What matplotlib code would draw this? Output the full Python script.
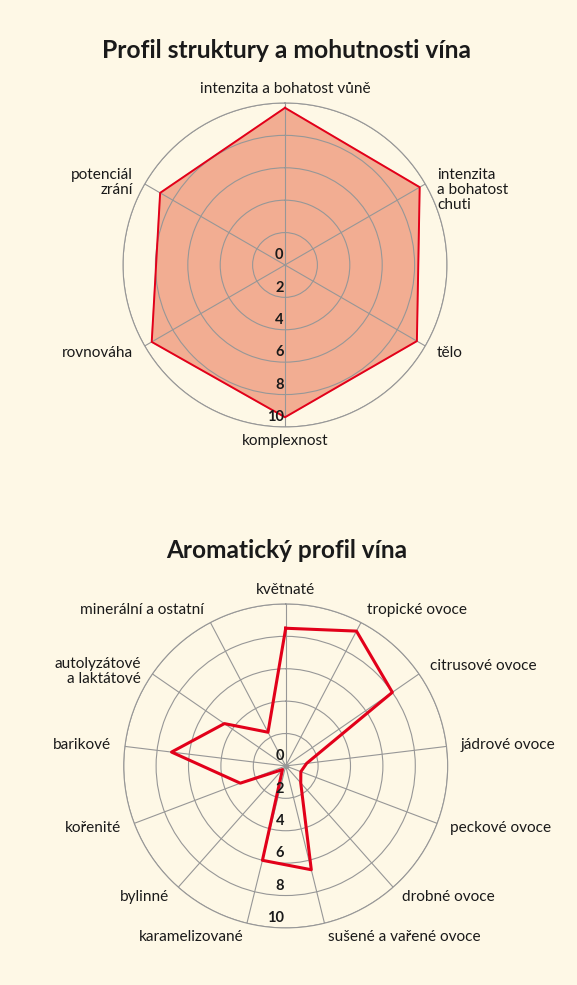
import numpy as np
import matplotlib
matplotlib.use("Agg")
import matplotlib.pyplot as plt

BG = "#fef8e6"
GRID = "#979797"
RED = "#e2001a"
FILL = "#f2ad92"
plt.rcParams['font.family'] = ['Lato', 'DejaVu Sans']

# top chart: structure profile
STRUCT_TITLE = "Profil struktury a mohutnosti vína"
STRUCT_LABELS = ["intenzita a bohatost vůně", "intenzita\na bohatost\nchuti", "tělo",
                 "komplexnost", "rovnováha", "potenciál\nzrání"]
STRUCT_VALUES = [9.7, 9.6, 9.4, 9.4, 9.5, 8.9]

# bottom chart: aroma profile
AROMA_TITLE = "Aromatický profil vína"
AROMA_LABELS = ["květnaté", "tropické ovoce", "citrusové ovoce", "jádrové ovoce",
                "peckové ovoce", "drobné ovoce", "sušené a vařené ovoce", "karamelizované",
                "bylinné", "kořenité", "barikové", "autolyzátové\na laktátové",
                "minerální a ostatní"]
AROMA_VALUES = [8.5, 9.4, 8.0, 1.3, 1.0, 1.4, 6.6, 6.0, 0.3, 3.0, 7.1, 4.6, 2.35]

TICKS = [0, 2, 4, 6, 8, 10]
LABEL_FS = 11.1


def radar(ax, labels, values, filled, lw):
    n = len(labels)
    ang = np.arange(n) * 2 * np.pi / n
    ax.set_facecolor(BG)
    ax.set_theta_zero_location("N")
    ax.set_theta_direction(-1)
    ax.set_ylim(0, 10)
    ax.set_yticks(TICKS[1:])
    ax.set_yticklabels([])
    ax.set_xticks(ang)
    ax.set_xticklabels([])
    ax.grid(True, color=GRID, linewidth=0.8)
    ax.spines['polar'].set_color(GRID)
    ax.spines['polar'].set_linewidth(0.8)

    a = np.append(ang, ang[0])
    v = np.append(values, values[0])
    if filled:
        ax.fill(a, v, color=FILL, zorder=1)
    else:
        ax.plot([0], [0], 'o', color=GRID, markersize=3, zorder=2)
    ax.plot(a, v, color=RED, linewidth=lw, zorder=3)

    for t in TICKS:
        ax.annotate(str(t), xy=(np.pi, t), xytext=(-1, 2), textcoords='offset points',
                    ha='right', va='bottom', fontsize=10.5, fontweight='bold',
                    color='#1a1a1a', zorder=4)

    for th, lab in zip(ang, labels):
        s = np.sin(th)
        if s > 0.1:
            ha = 'left'
        elif s < -0.1:
            ha = 'right'
        else:
            ha = 'center'
        if "\n" in lab:
            # first line sits on the axis direction
            ax.annotate(lab, xy=(th, 10.85), xytext=(0, 0.62 * LABEL_FS),
                        textcoords='offset points', ha=ha, va='top',
                        multialignment=ha, fontsize=LABEL_FS, color='#1a1a1a',
                        linespacing=1.12, annotation_clip=False)
        else:
            ax.text(th, 10.85, lab, ha=ha, va='center', fontsize=LABEL_FS,
                    color='#1a1a1a')


fig = plt.figure(figsize=(5.77, 9.85), dpi=100)
fig.patch.set_facecolor(BG)

ax1 = fig.add_axes([0.2132, 0.5665, 0.5615, 0.329], projection='polar')
radar(ax1, STRUCT_LABELS, STRUCT_VALUES, True, 1.4)
ax2 = fig.add_axes([0.2144, 0.0579, 0.5615, 0.329], projection='polar')
radar(ax2, AROMA_LABELS, AROMA_VALUES, False, 2.2)

fig.text(0.497, 1 - 50 / 985, STRUCT_TITLE, ha='center', va='center', fontsize=17.7,
         fontweight='bold', color='#1a1a1a')
fig.text(0.497, 1 - 550 / 985, AROMA_TITLE, ha='center', va='center', fontsize=17.6,
         fontweight='bold', color='#1a1a1a')

fig.savefig("out.png", dpi=100, facecolor=BG)
